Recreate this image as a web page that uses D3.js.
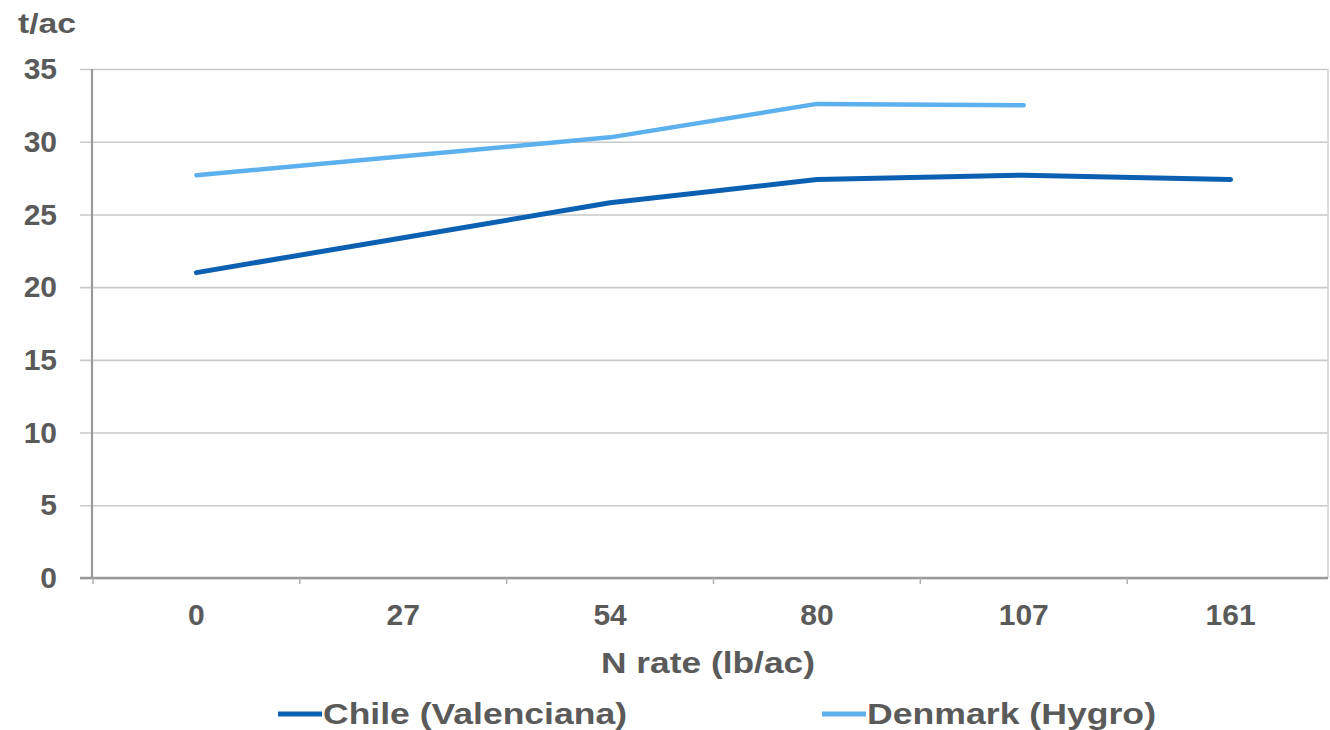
<!DOCTYPE html>
<html>
<head>
<meta charset="utf-8">
<script src="https://cdn.jsdelivr.net/npm/d3@7"></script>
<style>
  html, body { margin: 0; padding: 0; background: #fff; }
  svg { display: block; font-family: "Liberation Sans", Arial, sans-serif; font-weight: bold; }
</style>
</head>
<body>
<svg id="chart" width="1330" height="730"></svg>
<script>
// N application rates (lb/ac) shown along the x axis
const nRates = ["0", "27", "54", "80", "107", "161"];
// Yield (t/ac) by N rate for each source
const chileValues = [21.0, 23.4, 25.8, 27.4, 27.7, 27.4];
const denmarkValues = [27.7, 29.0, 30.3, 32.6, 32.5, null];
const yTicks = [0, 5, 10, 15, 20, 25, 30, 35];
const seriesNames = ["Chile (Valenciana)", "Denmark (Hygro)"];
const seriesColors = ["#0c60b2", "#5cb0ee"];

const svg = d3.select("#chart");
const margin = { top: 69, right: 2, bottom: 152, left: 92 };
const W = 1330, H = 730;
const plotW = W - margin.left - margin.right;
const plotH = H - margin.top - margin.bottom;
const textColor = "#5a5a5a";

// category bands run slightly past the right border
const x = d3.scaleBand().domain(nRates).range([1, plotW + 6]);
const y = d3.scaleLinear().domain([0, 35]).range([plotH, 0]);

const g = svg.append("g").attr("transform", `translate(${margin.left},${margin.top})`);

// horizontal gridlines with outside tick stubs
const yAxis = g.append("g")
  .call(d3.axisLeft(y).tickValues(yTicks).tickSize(-plotW).tickSizeOuter(0).tickPadding(35));
yAxis.select(".domain").remove();
yAxis.selectAll(".tick line")
  .attr("x1", -12)
  .attr("stroke", "#c9c9c9").attr("stroke-width", 1.6);
yAxis.selectAll(".tick text")
  .attr("fill", textColor).style("font-size", "30px").style("font-weight", "bold")
  .style("font-family", "'Liberation Sans', Arial, sans-serif");

// right border of the plot area
g.append("line")
  .attr("x1", plotW).attr("x2", plotW).attr("y1", 0).attr("y2", plotH)
  .attr("stroke", "#d0d0d0").attr("stroke-width", 1.5);

// vertical axis line
g.append("line")
  .attr("x1", 0).attr("x2", 0).attr("y1", 0).attr("y2", plotH)
  .attr("stroke", "#9a9a9a").attr("stroke-width", 2.2);

// x axis: tick marks sit on category boundaries
const boundaries = nRates.map(d => x(d)).filter(v => v < plotW);
const xAxisG = g.append("g").attr("transform", `translate(0,${plotH})`);
xAxisG.append("line")
  .attr("x1", -12).attr("x2", plotW)
  .attr("stroke", "#9a9a9a").attr("stroke-width", 2.4);
xAxisG.selectAll("line.bt").data(boundaries).join("line")
  .attr("class", "bt")
  .attr("x1", d => d).attr("x2", d => d).attr("y1", 0).attr("y2", 6)
  .attr("stroke", "#b0b0b0").attr("stroke-width", 1.5);
xAxisG.selectAll("text").data(nRates).join("text")
  .attr("x", d => x(d) + x.bandwidth() / 2)
  .attr("y", 47)
  .attr("text-anchor", "middle")
  .attr("fill", textColor)
  .style("font-size", "30px")
  .text(d => d);

// series lines
const line = d3.line()
  .defined(d => d.v != null)
  .x(d => x(d.k) + x.bandwidth() / 2)
  .y(d => y(d.v));

const series = [chileValues, denmarkValues].map((vals, i) => ({
  name: seriesNames[i],
  color: seriesColors[i],
  width: i === 0 ? 5 : 4.5,
  points: vals.map((v, j) => ({ k: nRates[j], v }))
}));

g.selectAll("path.series").data(series).join("path")
  .attr("class", "series")
  .attr("fill", "none")
  .attr("stroke", d => d.color)
  .attr("stroke-width", d => d.width)
  .attr("stroke-linejoin", "round")
  .attr("stroke-linecap", "round")
  .attr("d", d => line(d.points));

// unit label
svg.append("text")
  .attr("x", 18).attr("y", 33)
  .attr("fill", textColor)
  .style("font-size", "28px")
  .attr("textLength", 58).attr("lengthAdjust", "spacingAndGlyphs")
  .text("t/ac");

// x axis title
svg.append("text")
  .attr("x", margin.left + plotW / 2 - 2).attr("y", 673)
  .attr("text-anchor", "middle")
  .attr("fill", textColor)
  .style("font-size", "29px")
  .attr("textLength", 214).attr("lengthAdjust", "spacingAndGlyphs")
  .text("N rate (lb/ac)");

// legend
const legendPos = [{ lx: 278, tw: 304 }, { lx: 822, tw: 289 }];
const legend = svg.selectAll("g.legend").data(series).join("g")
  .attr("class", "legend")
  .attr("transform", (d, i) => `translate(${legendPos[i].lx},714)`);
legend.append("line")
  .attr("x1", 0).attr("x2", 44)
  .attr("stroke", d => d.color).attr("stroke-width", 5);
legend.append("text")
  .attr("x", 45).attr("y", 10)
  .attr("fill", textColor)
  .style("font-size", "29px")
  .attr("textLength", (d, i) => legendPos[i].tw).attr("lengthAdjust", "spacingAndGlyphs")
  .text(d => d.name);
</script>
</body>
</html>
